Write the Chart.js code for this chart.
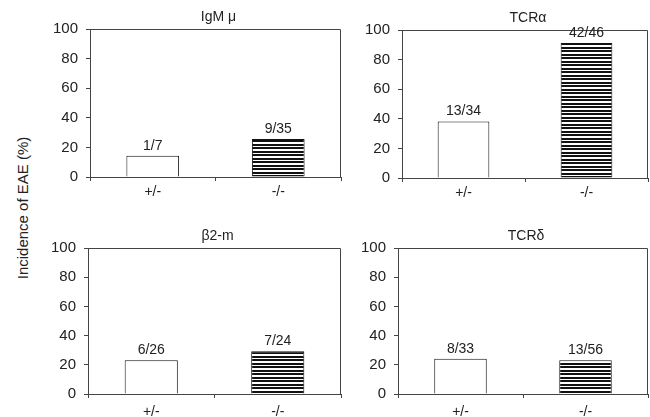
<!DOCTYPE html>
<html>
<head>
<meta charset="utf-8">
<script src="https://cdn.jsdelivr.net/npm/chart.js@4"></script>
<style>
  body { margin: 0; background: #fff; }
  #wrap { position: relative; width: 650px; height: 417px; font-family: "Liberation Sans", Arial, sans-serif; }
  .panel { position: absolute; }
  #ylab {
    position: absolute; left: 22px; top: 208px;
    transform: translate(-50%, -50%) rotate(-90deg);
    white-space: nowrap; font-size: 15px; color: #222;
  }
</style>
</head>
<body>
<div id="wrap">
  <div id="ylab">Incidence of EAE (%)</div>
  <div class="panel" style="left:40px;top:0px;width:303px;height:200px"><canvas id="c0"></canvas></div>
  <div class="panel" style="left:352px;top:1px;width:298px;height:200px"><canvas id="c1"></canvas></div>
  <div class="panel" style="left:38px;top:219px;width:305px;height:198px"><canvas id="c2"></canvas></div>
  <div class="panel" style="left:348px;top:219px;width:302px;height:198px"><canvas id="c3"></canvas></div>
</div>
<script>
// genotype groups and panel names
const groups = ["+/-", "-/-"];
const panelTitles = ["IgM \u03bc", "TCR\u03b1", "\u03b22-m", "TCR\u03b4"];

// incidence of EAE (%) per panel
const igmValues = [14.3, 25.7];
const tcraValues = [38.2, 91.3];
const b2mValues = [23.1, 29.2];
const tcrdValues = [24.2, 23.2];

// number sick / total, written above each bar
const igmCounts = ["1/7", "9/35"];
const tcraCounts = ["13/34", "42/46"];
const b2mCounts = ["6/26", "7/24"];
const tcrdCounts = ["8/33", "13/56"];

const yTicks = [0, 20, 40, 60, 80, 100];

const FONT = "'Liberation Sans', Arial, sans-serif";

// horizontal stripes for the knockout bars
function stripes() {
  const c = document.createElement("canvas");
  c.width = 4; c.height = 7;
  const g = c.getContext("2d");
  g.fillStyle = "#fff";
  g.fillRect(0, 0, 4, 7);
  g.fillStyle = "#111";
  g.fillRect(0, 0, 4, 2);
  g.fillRect(0, 4, 4, 2);
  return g.createPattern(c, "repeat");
}

// box round the plot, panel title over the plot, n/N labels over the bars
const boxAndLabels = {
  id: "boxAndLabels",
  afterDatasetsDraw(chart, args, opts) {
    const ctx = chart.ctx;
    const a = chart.chartArea;
    ctx.save();
    ctx.strokeStyle = "#444";
    ctx.lineWidth = 1;
    ctx.beginPath();
    ctx.moveTo(a.left, a.top + 0.5);
    ctx.lineTo(a.right - 0.5, a.top + 0.5);
    ctx.lineTo(a.right - 0.5, a.bottom);
    ctx.stroke();
    ctx.fillStyle = "#222";
    ctx.textAlign = "center";
    ctx.textBaseline = "middle";
    ctx.font = "14px " + FONT;
    ctx.fillText(opts.title, (a.left + a.right) / 2 + 3, a.top - 12);
    ctx.textBaseline = "bottom";
    chart.getDatasetMeta(0).data.forEach((bar, i) => {
      ctx.fillText(opts.counts[i], bar.x, bar.y - 3);
    });
    ctx.restore();
  }
};

function makePanel(id, title, values, counts, xPad) {
  const ctx = document.getElementById(id).getContext("2d");
  return new Chart(ctx, {
    type: "bar",
    data: {
      labels: groups,
      datasets: [{
        data: values,
        backgroundColor: ["#fff", stripes()],
        borderColor: "#111",
        borderWidth: 1,
        borderSkipped: "bottom",
        barPercentage: 0.42,
        categoryPercentage: 1
      }]
    },
    options: {
      responsive: true,
      maintainAspectRatio: false,
      animation: false,
      devicePixelRatio: 1,
      layout: { padding: { top: 29, right: 2, bottom: 0, left: 0 } },
      plugins: {
        legend: { display: false },
        tooltip: { enabled: false },
        title: { display: false },
        boxAndLabels: { counts: counts, title: title }
      },
      scales: {
        x: {
          grid: { drawOnChartArea: false, tickLength: 4, color: "#444", offset: true },
          border: { color: "#444" },
          ticks: { color: "#222", padding: xPad, font: { family: FONT, size: 14 } },
          afterFit(s) { s.height = 23; }
        },
        y: {
          min: 0,
          max: 100,
          afterBuildTicks(s) { s.ticks = yTicks.map(v => ({ value: v })); },
          grid: { drawOnChartArea: false, tickLength: 4, color: "#444" },
          border: { color: "#444" },
          ticks: { color: "#222", padding: 8, font: { family: FONT, size: 15 } },
          afterFit(s) { s.width = 50; }
        }
      }
    },
    plugins: [boxAndLabels]
  });
}

document.addEventListener("DOMContentLoaded", function () {
  makePanel("c0", panelTitles[0], igmValues, igmCounts, 3);
  makePanel("c1", panelTitles[1], tcraValues, tcraCounts, 3);
  makePanel("c2", panelTitles[2], b2mValues, b2mCounts, 6);
  makePanel("c3", panelTitles[3], tcrdValues, tcrdCounts, 6);
});
</script>
</body>
</html>
